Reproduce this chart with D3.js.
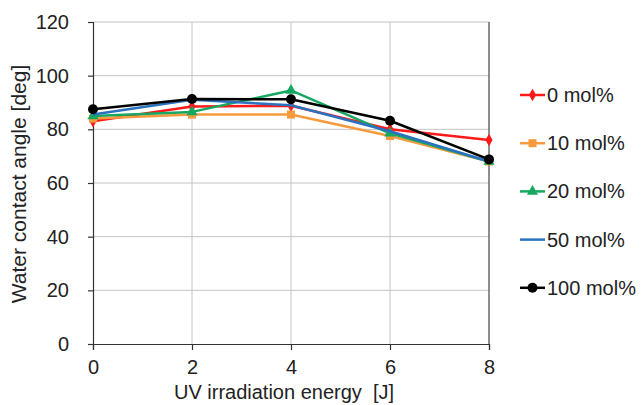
<!DOCTYPE html>
<meta charset="utf-8">
<script src="https://d3js.org/d3.v7.min.js"></script>
<style>
  body { margin: 0; background: #fff; }
  text { font-family: "Liberation Sans", Arial, sans-serif; fill: #222; }
</style>
<svg id="vis"></svg>
<script>
    // Chart data
    let energy = [0, 2, 4, 6, 8]
    let seriesNames = ['0 mol%', '10 mol%', '20 mol%', '50 mol%', '100 mol%']
    let mol0 = [83, 88.5, 88.8, 80, 76]
    let mol10 = [84, 85.5, 85.5, 77.5, 68]
    let mol20 = [85, 86.5, 94.5, 78.5, 68]
    let mol50 = [85.5, 91, 89, 79.3, 68]
    let mol100 = [87.5, 91.3, 91.2, 83.2, 68.8]
    let xTicks = [0, 2, 4, 6, 8]
    let yTicks = [0, 20, 40, 60, 80, 100, 120]

    let colors = ['#ff1a1a', '#f79a3e', '#16a860', '#2a72c0', '#000000']
    let markers = ['diamond', 'square', 'triangle', 'none', 'circle']
    let values = [mol0, mol10, mol20, mol50, mol100]

    var margin = {top: 22, right: 154, bottom: 61, left: 93},
        width = 643 - margin.left - margin.right,
        height = 405 - margin.top - margin.bottom;

    let svg = d3.select('#vis')
        .attr('width', 643)
        .attr('height', 405)
        .append('g')
        .attr('transform', 'translate(' + margin.left + ',' + margin.top + ')');

    var x = d3.scaleLinear().domain([0, 8]).range([0, width]);
    var y = d3.scaleLinear().domain([0, 120]).range([height, 0]);

    // Gridlines
    svg.append('g')
        .selectAll('line')
        .data(yTicks.slice(1))
        .enter()
        .append('line')
        .attr('x1', 0).attr('x2', width)
        .attr('y1', d => y(d)).attr('y2', d => y(d))
        .style('stroke', '#c4c4c4').style('stroke-width', 1);
    svg.append('g')
        .selectAll('line')
        .data(xTicks.slice(1, -1))
        .enter()
        .append('line')
        .attr('y1', 0).attr('y2', height)
        .attr('x1', d => x(d)).attr('x2', d => x(d))
        .style('stroke', '#c4c4c4').style('stroke-width', 1);
    // right border
    svg.append('line')
        .attr('x1', x(8)).attr('x2', x(8))
        .attr('y1', 0).attr('y2', height)
        .style('stroke', '#444').style('stroke-width', 1.2);

    // Axes
    var xAxis = svg.append('g')
        .attr('transform', 'translate(0,' + height + ')')
        .call(d3.axisBottom(x).tickValues(xTicks).tickSize(6).tickPadding(10));
    var yAxis = svg.append('g')
        .call(d3.axisLeft(y).tickValues(yTicks).tickSize(5).tickPadding(19));
    [xAxis, yAxis].forEach(function (a) {
        a.selectAll('path, line').style('stroke', '#333').style('stroke-width', 1.2);
        a.selectAll('text').style('font-size', '20px').style('fill', '#222')
            .style('font-family', '"Liberation Sans", Arial, sans-serif');
    });

    // Axis titles
    svg.append('text')
        .attr('text-anchor', 'middle')
        .attr('x', width / 2 - 7)
        .attr('y', height + 55)
        .style('font-size', '20px')
        .text('UV irradiation energy\u00a0\u00a0[J]');
    svg.append('text')
        .attr('text-anchor', 'middle')
        .attr('transform', 'translate(-67,' + (height / 2 + 1) + ') rotate(-90)')
        .style('font-size', '21px')
        .text('Water contact angle [deg]');

    function drawMarker(g, type, color, cx, cy) {
        if (type === 'circle') {
            g.append('circle').attr('cx', cx).attr('cy', cy).attr('r', 5).style('fill', color);
        } else if (type === 'square') {
            g.append('rect').attr('x', cx - 4).attr('y', cy - 4).attr('width', 8).attr('height', 8).style('fill', color);
        } else if (type === 'diamond') {
            g.append('path').attr('d', d3.symbol().type(d3.symbolDiamond).size(45)())
                .attr('transform', 'translate(' + cx + ',' + cy + ')').style('fill', color);
        } else if (type === 'triangle') {
            g.append('path').attr('d', d3.symbol().type(d3.symbolTriangle).size(55)())
                .attr('transform', 'translate(' + cx + ',' + cy + ')').style('fill', color);
        }
    }

    var line = d3.line()
        .x(function (d, i) { return x(energy[i]) })
        .y(function (d) { return y(d) });

    values.forEach(function (vals, s) {
        var g = svg.append('g');
        g.append('path')
            .datum(vals)
            .attr('d', line)
            .style('fill', 'none')
            .style('stroke', colors[s])
            .style('stroke-width', 2.5)
            .style('stroke-linejoin', 'round');
        vals.forEach(function (v, i) {
            drawMarker(g, markers[s], colors[s], x(energy[i]), y(v));
        });
    });

    // Legend
    var legend = svg.append('g')
        .attr('transform', 'translate(' + (520 - margin.left) + ',' + (95 - margin.top) + ')');
    seriesNames.forEach(function (name, s) {
        var g = legend.append('g').attr('transform', 'translate(0,' + (s * 48.2) + ')');
        g.append('line')
            .attr('x1', 0).attr('x2', 25).attr('y1', 0).attr('y2', 0)
            .style('stroke', colors[s]).style('stroke-width', 2.5);
        drawMarker(g, markers[s], colors[s], 12.5, 0);
        g.append('text')
            .attr('x', 27)
            .attr('y', 0)
            .attr('dy', '0.35em')
            .style('font-size', '20px')
            .text(name);
    });
</script>
